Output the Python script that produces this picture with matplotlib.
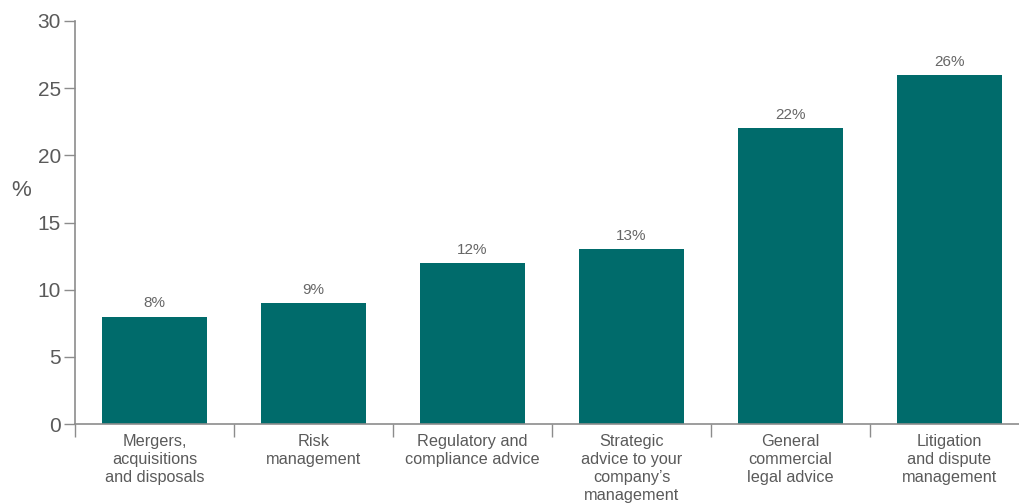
import numpy as np
import matplotlib.pyplot as plt
from matplotlib.ticker import FixedLocator

plt.rcParams['font.family'] = ['Liberation Sans', 'DejaVu Sans']

# Servizi legali richiesti (valori in %)
categories = [
    "Mergers,\nacquisitions\nand disposals",
    "Risk\nmanagement",
    "Regulatory and\ncompliance advice",
    "Strategic\nadvice to your\ncompany\u2019s\nmanagement",
    "General\ncommercial\nlegal advice",
    "Litigation\nand dispute\nmanagement",
]
values = [8, 9, 12, 13, 22, 26]
y_ticks = [0, 5, 10, 15, 20, 25, 30]

bar_color = '#006b6b'
text_color = '#5a5a5a'
axis_color = '#8c8c8c'

W, H = 1019, 504
fig = plt.figure(figsize=(W / 100, H / 100), dpi=100)
# l'asse x prosegue oltre il bordo destro della figura
left, right_px = 75, 1029
bottom_px, top_px = 424, 21
ax = fig.add_axes([left / W, (H - bottom_px) / H, (right_px - left) / W, (bottom_px - top_px) / H])

x = np.arange(len(values))
bars = ax.bar(x, values, width=0.66, color=bar_color, zorder=2)

for b, v in zip(bars, values):
    ax.text(b.get_x() + b.get_width() / 2, v + 0.45, f"{v}%", ha='center', va='bottom',
            fontsize=11, color='#666666')

ax.set_xlim(-0.5, len(values) - 0.5)
ax.set_ylim(0, 30)
ax.set_yticks(y_ticks)
ax.tick_params(axis='y', direction='out', length=8, width=1, color=axis_color,
               labelsize=15, labelcolor=text_color, pad=2)

# etichette categorie senza tacca, tacche di separazione come minor ticks
ax.set_xticks(x)
ax.set_xticklabels(categories, fontsize=11.7, color=text_color, linespacing=1.27)
ax.tick_params(axis='x', which='major', length=0, pad=7)
ax.xaxis.set_minor_locator(FixedLocator(np.arange(-0.5, len(values) - 0.5, 1.0)))
ax.tick_params(axis='x', which='minor', direction='out', length=9, width=1, color=axis_color)

for s in ['top', 'right']:
    ax.spines[s].set_visible(False)
for s in ['left', 'bottom']:
    ax.spines[s].set_color(axis_color)
    ax.spines[s].set_linewidth(1.2)

fig.text(21 / W, 1 - 190 / H, "%", fontsize=16, color=text_color, ha='center', va='center')

fig.savefig('out.png', dpi=100)
